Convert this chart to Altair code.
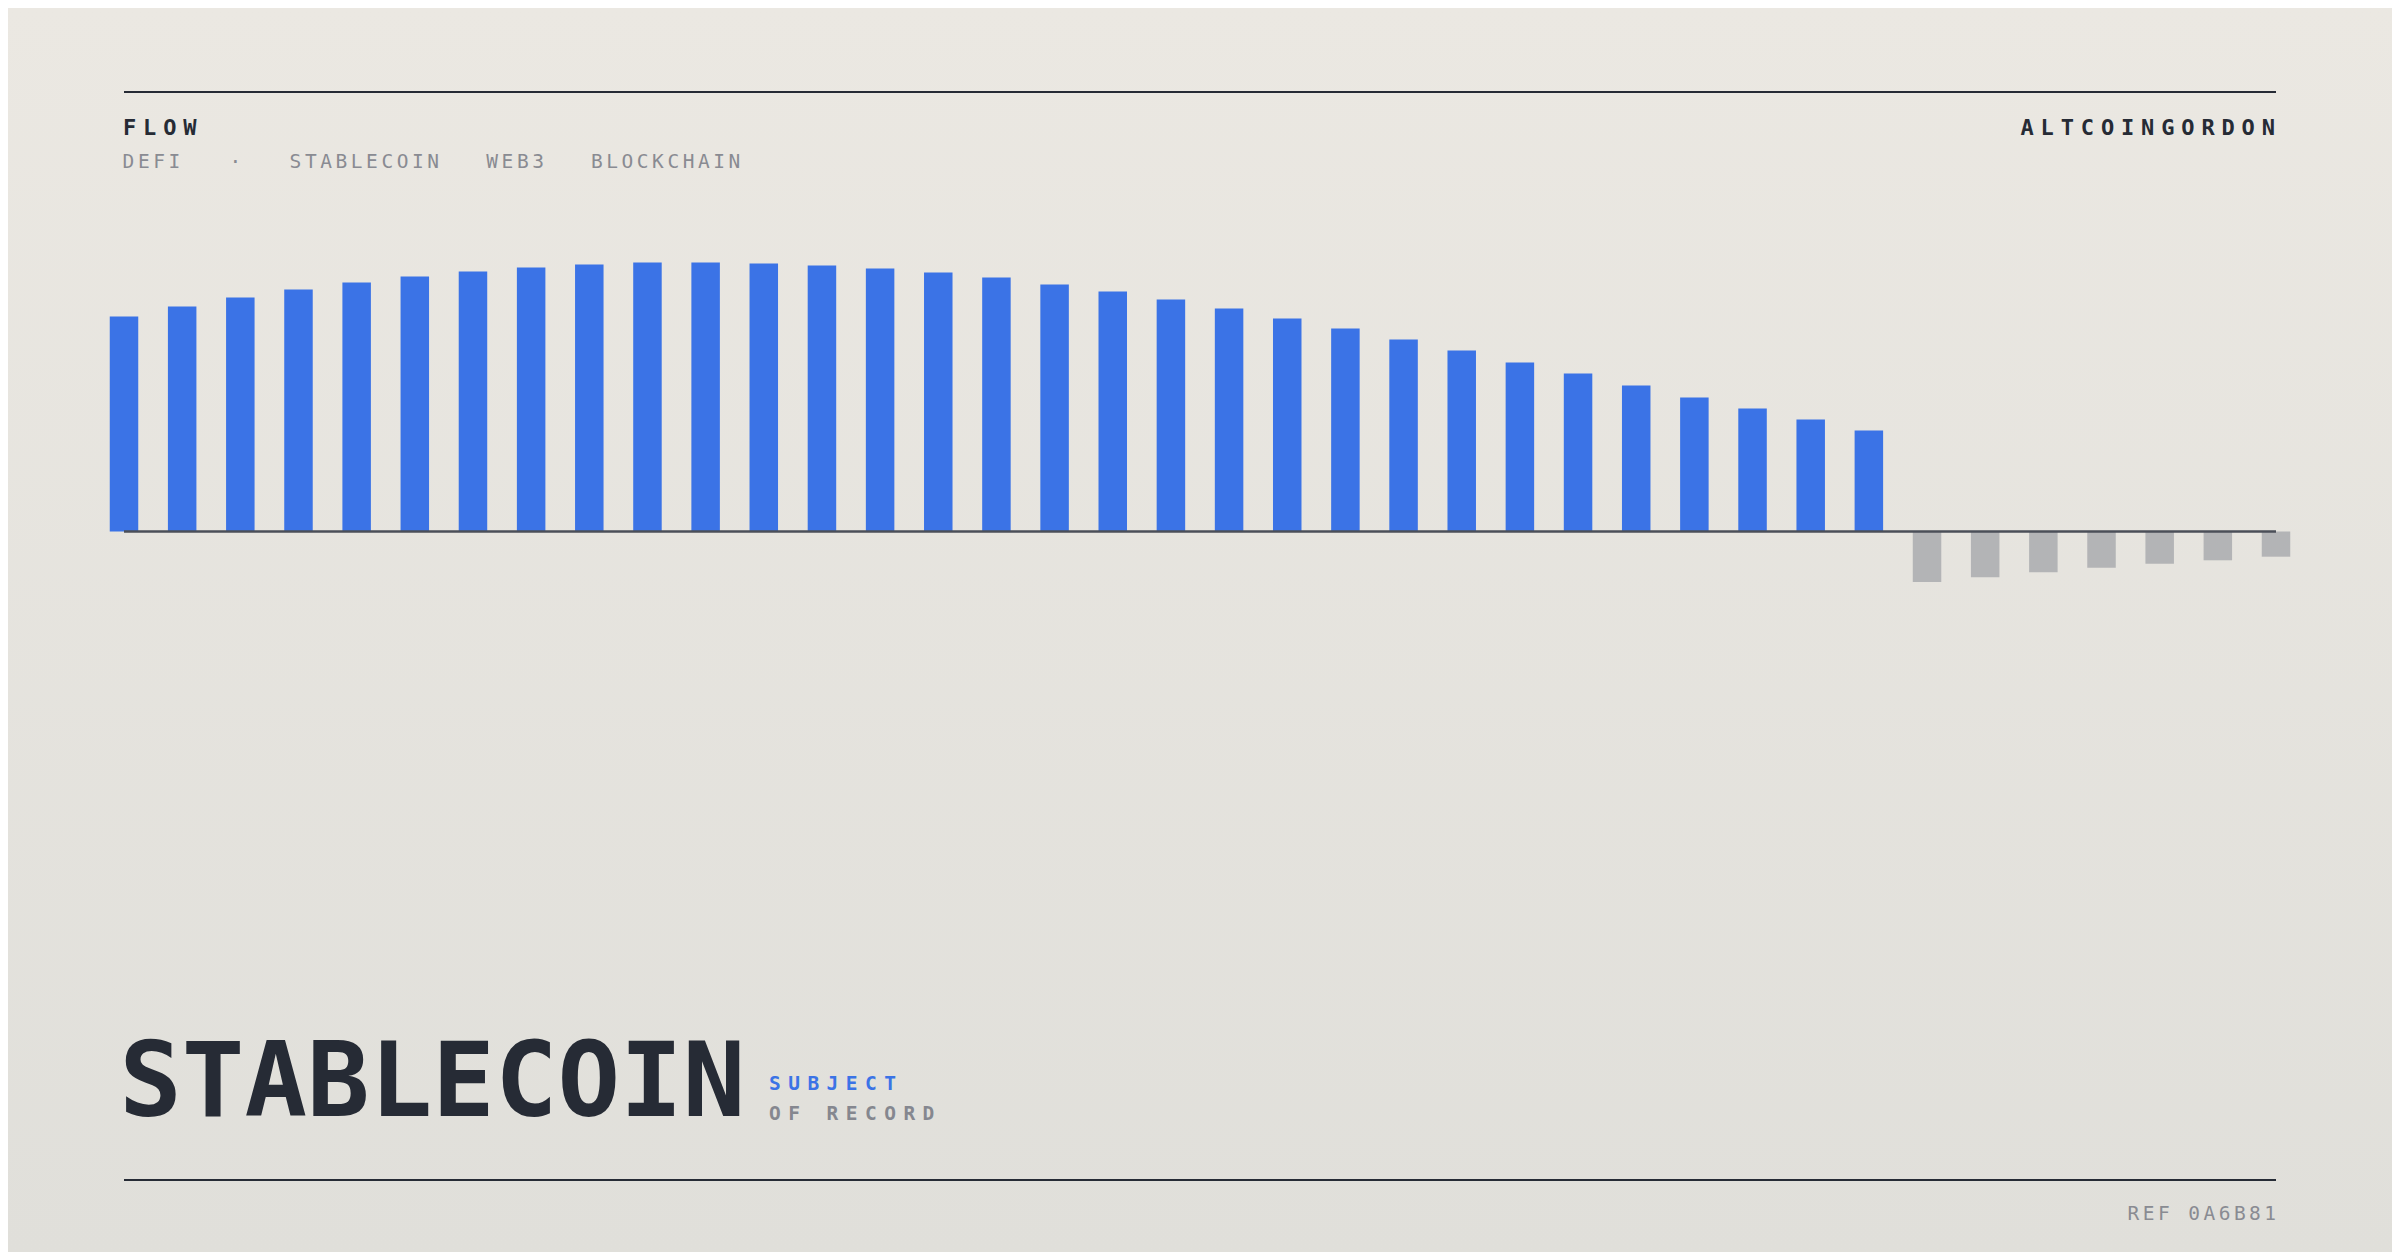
import altair as alt
import pandas as pd

# ---------------- data ----------------
flow_values = [21.5, 22.5, 23.4, 24.2, 24.9, 25.5, 26.0, 26.4, 26.7, 26.9, 26.9,
               26.8, 26.6, 26.3, 25.9, 25.4, 24.7, 24.0, 23.2, 22.3, 21.3, 20.3,
               19.2, 18.1, 16.9, 15.8, 14.6, 13.4, 12.3, 11.2, 10.1,
               -5.05, -4.58, -4.08, -3.62, -3.22, -2.88, -2.52]
periods = list(range(len(flow_values)))

header_left = "FLOW"
header_right = "ALTCOINGORDON"
tags = ["DEFI", "·", "STABLECOIN", "WEB3", "BLOCKCHAIN"]
title_text = "STABLECOIN"
subject_line1 = "SUBJECT"
subject_line2 = "OF RECORD"
ref_text = "REF 0A6B81"

# ---------------- styling ----------------
W, H = 2384, 1244
BLUE = "#3B73E6"
GREY_BAR = "#B3B4B6"
DARK = "#262B35"
MUTED = "#898B92"
FONT = "DejaVu Sans Mono"

bars = pd.DataFrame({
    "i": periods,
    "v": flow_values,
    "kind": ["in" if v >= 0 else "out" for v in flow_values],
})
base_df = pd.DataFrame({"x0": [min(periods)], "x1": [max(periods)], "y": [0]})

xs = alt.Scale(domain=[0, len(periods) - 1], range=[116, 2268], padding=0, nice=False, zero=False)
ys = alt.Scale(domain=[0, 10], range=[523.5, 423.5], nice=False)

one = pd.DataFrame({"a": [0]})

bg = alt.Chart(one).mark_rect(
    color=alt.Gradient(
        gradient="linear",
        stops=[alt.GradientStop(color="#EBE8E2", offset=0),
               alt.GradientStop(color="#E0DFDA", offset=1)],
        x1=0, x2=0, y1=0, y2=1,
    )
).encode(x=alt.value(0), x2=alt.value(W), y=alt.value(0), y2=alt.value(H))

bar_layer = alt.Chart(bars).mark_bar(size=28.5).encode(
    x=alt.X("i:Q", scale=xs, axis=None),
    y=alt.Y("v:Q", scale=ys, axis=None),
    y2=alt.datum(0),
    color=alt.Color("kind:N", scale=alt.Scale(domain=["in", "out"], range=[BLUE, GREY_BAR]), legend=None),
)

baseline = alt.Chart(base_df).mark_rule(color="#4B4F58", strokeWidth=2.5).encode(
    x=alt.X("x0:Q", scale=xs, axis=None),
    x2="x1:Q",
    y=alt.Y("y:Q", scale=ys, axis=None),
)

top_rule = alt.Chart(one).mark_rule(color=DARK, strokeWidth=2).encode(
    x=alt.value(116), x2=alt.value(2268), y=alt.value(84))
bottom_rule = alt.Chart(one).mark_rule(color=DARK, strokeWidth=2).encode(
    x=alt.value(116), x2=alt.value(2268), y=alt.value(1172))


def spaced(text, x0, adv, y):
    return [{"ch": c, "px": x0 + k * adv, "py": y} for k, c in enumerate(text) if c != " "]


def text_layer(rows, size, weight, color):
    df = pd.DataFrame(rows)
    return alt.Chart(df).mark_text(
        font=FONT, fontSize=size, fontWeight=weight, color=color,
        align="left", baseline="alphabetic",
    ).encode(
        x=alt.X("px:Q", scale=None, axis=None),
        y=alt.Y("py:Q", scale=None, axis=None),
        text="ch:N",
    )


bold_header = spaced(header_left, 115, 20.1, 127) + spaced(header_right, 2012.5, 20.1, 127)
tag_x = [114.6, 221.4, 281.6, 478.3, 582.9]
tag_rows = []
for t, x0 in zip(tags, tag_x):
    tag_rows += spaced(t, x0, 15.3, 159.7)
tag_rows += spaced(ref_text, 2119.5, 15.2, 1212)

layers = [
    bg,
    bar_layer,
    baseline,
    top_rule,
    bottom_rule,
    text_layer(bold_header, 22, "bold", DARK),
    text_layer(tag_rows, 19.5, "normal", MUTED),
    text_layer(spaced(subject_line1, 761, 19.2, 1082), 19.5, "bold", BLUE),
    text_layer(spaced(subject_line2, 761, 19.2, 1112), 19.5, "bold", "#85878F"),
    alt.Chart(pd.DataFrame({"t": [title_text]})).mark_text(
        font=FONT, fontSize=104, fontWeight="bold", color=DARK,
        align="left", baseline="alphabetic",
    ).encode(x=alt.value(111.2), y=alt.value(1108), text="t:N"),
]

chart = alt.layer(*layers).resolve_scale(x="independent", y="independent", color="independent").properties(
    width=W, height=H, autosize=alt.AutoSizeParams(type="none"), padding=0,
).configure_view(stroke=None).configure(background="#E6E4DE")

chart.save("out.html", embed_options={"renderer": "svg", "actions": False})
